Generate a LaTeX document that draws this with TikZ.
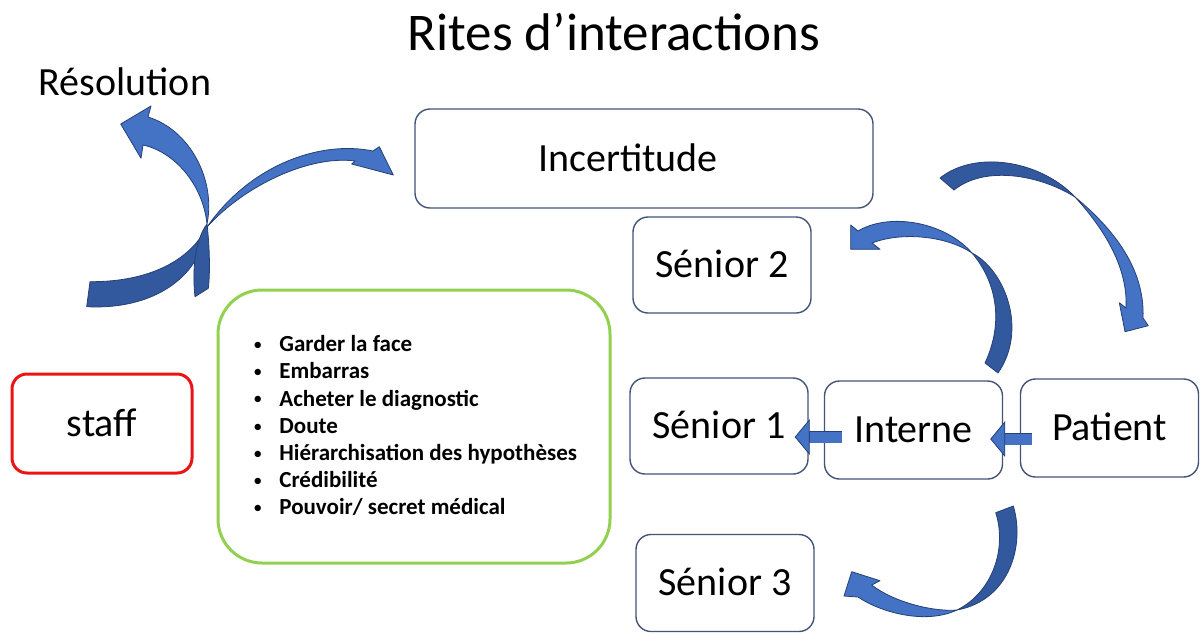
\documentclass[tikz,border=0pt]{standalone}
\usepackage{fontspec}
\setmainfont{Carlito}
\usetikzlibrary{arrows.meta}

\definecolor{boxline}{RGB}{68,84,120}
\definecolor{arrowlight}{RGB}{68,114,196}
\definecolor{arrowdark}{RGB}{50,88,158}
\definecolor{arrowline}{RGB}{38,64,118}
\definecolor{staffred}{RGB}{235,20,20}
\definecolor{listgreen}{RGB}{146,208,80}

\tikzset{
  box/.style={draw=boxline, line width=0.7pt, rounded corners=7.5pt, fill=white,
    minimum width=89pt, minimum height=48pt, inner sep=0pt,
    font=\fontsize{20}{24}\selectfont, text height=12.9pt, text depth=0pt},
  bigtext/.style={inner sep=0pt, font=\fontsize{20}{24}\selectfont},
  itemtext/.style={inner sep=0pt, anchor=base west, font=\bfseries\fontsize{11.5}{13.6}\selectfont},
  lightpart/.style={fill=arrowlight, draw=arrowline, line width=0.4pt, line join=round},
  darkpart/.style={fill=arrowdark, draw=arrowline, line width=0.4pt, line join=round},
  link/.style={draw=arrowlight, line width=5.5pt,
    -{Triangle[length=7.5pt, width=18pt, fill=arrowlight, color=arrowline, line width=0.4pt]},
    preaction={draw=arrowline, line width=6.3pt, arrows=-, shorten >=7pt}}
}

\begin{document}
\begin{tikzpicture}[x=0.5pt, y=-0.5pt]
  \useasboundingbox (0,0) rectangle (1203,632);
  \fill[white] (0,0) rectangle (1203,632);

  % texts
  \node[inner sep=0pt, font=\fontsize{26.5}{30}\selectfont] (title) at (614,32) {Rites d’interactions};
  \node[bigtext] (resolution) at (125,82) {Résolution};

  % boxes
  \node[box, minimum width=229pt, minimum height=49.5pt] (incert) at (644,158.5) {Incertitude\hspace*{16pt}};
  \node[box] (senior2) at (722,265) {Sénior 2};
  \node[box] (senior1) at (719,426) {Sénior 1};
  \node[box, minimum height=49pt] (interne) at (913.5,430) {Interne};
  \node[box, minimum height=49pt] (patient) at (1109.5,428) {Patient};
  \node[box, minimum height=48.5pt] (senior3) at (725,583) {Sénior 3};
  \node[box, draw=staffred, line width=1.5pt, minimum width=90pt, minimum height=49.5pt] (staff) at (102,423.5) {staff};
  \node[draw=listgreen, line width=1.5pt, rounded corners=22pt, minimum width=196pt, minimum height=136.5pt] (list) at (414,426.5) {};

  % list of the green box
  \foreach \entry [count=\i] in {Garder la face, Embarras, Acheter le diagnostic, Doute,
      Hiérarchisation des hypothèses, Crédibilité, Pouvoir/ secret médical}
    \node[itemtext] (item\i) at (253,{351.7+27.2*(\i-1)})
      {\makebox[13pt][l]{\raisebox{0.6pt}{\mdseries\fontsize{9}{9}\selectfont\textbullet}}\entry};

  % straight arrows
  \draw[link] ([xshift=6pt,yshift=-5.5pt]patient.west) -- ([xshift=-6.5pt,yshift=-4.5pt]interne.east);
  \draw[link] ([xshift=9pt,yshift=-3.5pt]interne.west) -- ([xshift=-7pt,yshift=-5.5pt]senior1.east);

  % curved arrows, left
  \draw[darkpart] (207,227) .. controls (190,260) and (150,282) .. (90,281.7) -- (86.7,306.7)
    .. controls (150,310) and (200,280) .. (207,227) -- cycle;
  \draw[darkpart] (207,224) .. controls (210,250) and (210,275) .. (208.3,288.3) -- (195,296.7)
    .. controls (192,270) and (195,240) .. (207,224) -- cycle;
  \draw[lightpart] (207,227) .. controls (250,165) and (320,140) .. (373,151)
    -- (379.3,146.7) -- (393.3,175) -- (351.7,164) -- (355,161)
    .. controls (310,155) and (245,185) .. (207,227) -- cycle;
  \draw[lightpart] (207,224) .. controls (216,180) and (190,130) .. (148,117)
    -- (151,106) -- (120.7,124) -- (141,158.3) -- (143,145)
    .. controls (175,152) and (203,185) .. (207,224) -- cycle;

  % curved arrows, right
  \draw[darkpart] (940,178) .. controls (975,150) and (1040,160) .. (1075,197)
    .. controls (1040,175) and (985,165) .. (954,190) -- cycle;
  \draw[lightpart] (1075,197) .. controls (1115,230) and (1145,270) .. (1143,318)
    -- (1148.3,325.7) -- (1125,331.7) -- (1119.3,302.7) -- (1126,308)
    .. controls (1128,268) and (1105,230) .. (1075,197) -- cycle;
  \draw[darkpart] (972,253) .. controls (1005,270) and (1028,330) .. (998,373) -- (985,363)
    .. controls (1005,320) and (995,280) .. (972,253) -- cycle;
  \draw[lightpart] (850.7,225) -- (850.7,249.3) -- (880,249.3) -- (872,243)
    .. controls (900,232) and (945,235) .. (972,253)
    .. controls (945,222) and (890,212) .. (858,231) -- cycle;
  \draw[darkpart] (1013.3,506) .. controls (1025,545) and (1010,600) .. (957,610)
    .. controls (993,592) and (1007,548) .. (995.7,512.7) -- cycle;
  \draw[lightpart] (957,610) .. controls (925,625) and (880,612) .. (858,597)
    -- (844,596) -- (851.7,571.7) -- (880,580.7) -- (871.7,585)
    .. controls (895,603) and (935,612) .. (957,610) -- cycle;
\end{tikzpicture}
\end{document}
